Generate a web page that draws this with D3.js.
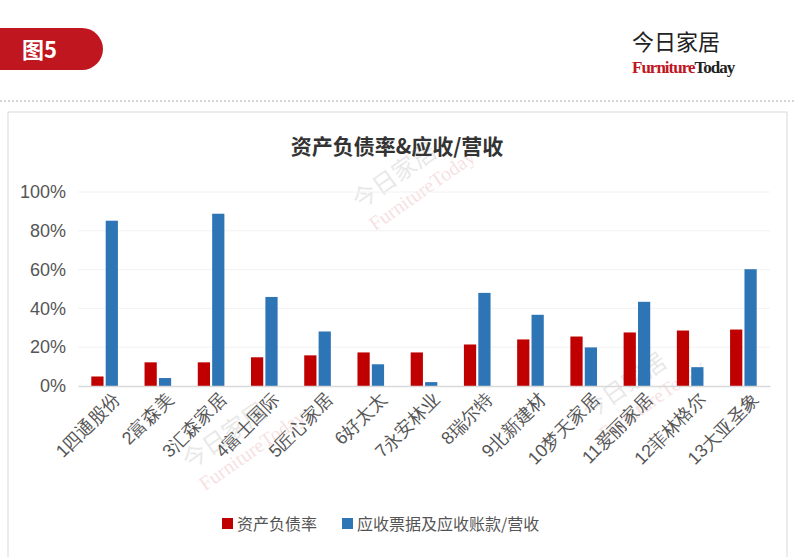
<!DOCTYPE html>
<html><head><meta charset="utf-8">
<script src="https://cdn.jsdelivr.net/npm/d3@7"></script>
<style>body{margin:0;background:#fff;font-family:"Noto Sans CJK SC","Microsoft YaHei",sans-serif}</style>
</head><body>
<svg id="chart" width="794" height="557"></svg>
<script>
var categories = ["1四通股份","2富森美","3汇森家居","4富士国际","5匠心家居","6好太太","7永安林业","8瑞尔特","9北新建材","10梦天家居","11爱丽家居","12菲林格尔","13大亚圣象"];
var debtRatio = [4.9,12.2,12.2,14.8,15.8,17.3,17.3,21.4,24.0,25.5,27.6,28.6,29.1];
var receivRatio = [85.2,4.1,88.8,45.9,28.1,11.2,2.0,48.0,36.7,19.9,43.4,9.7,60.2];
var yTicks = [0,20,40,60,80,100];
var seriesNames = ["资产负债率","应收票据及应收账款/营收"];
var colors = ["#c00000","#2e75b6"];

var svg = d3.select("#chart");
// header
svg.append("path").attr("d","M0,28 H82 A14,14 0 0 1 82,70 H0 Z").attr("fill","#c0161f");
svg.append("text").attr("x",22).attr("y",58).attr("fill","#fff").attr("font-size",22).attr("font-weight","bold").text("图5");
svg.append("text").attr("x",632).attr("y",50).attr("font-size",22).attr("fill","#222").text("今日家居");
svg.append("text").attr("x",632).attr("y",73).attr("font-size",17).attr("font-family","Liberation Serif").attr("font-weight","bold").attr("letter-spacing",-1)
  .call(function(t){t.append("tspan").attr("fill","#c0161f").text("Furniture");t.append("tspan").attr("fill","#222").text("Today");});
svg.append("line").attr("x1",0).attr("x2",794).attr("y1",101).attr("y2",101).attr("stroke","#aaa").attr("stroke-dasharray","2,2");
svg.append("rect").attr("x",8).attr("y",112).attr("width",779).attr("height",450).attr("fill","none").attr("stroke","#d9d9d9");

svg.append("text").attr("x",397).attr("y",154).attr("text-anchor","middle").attr("font-size",21).attr("font-weight","bold").attr("fill","#333").text("资产负债率&应收/营收");

// watermarks
[[360,210],[590,420],[190,470]].forEach(function(p){
  var g = svg.append("g").attr("transform","translate("+p[0]+","+p[1]+") rotate(-35)").attr("opacity",0.13);
  g.append("text").attr("font-size",24).attr("fill","#555").text("今日家居");
  g.append("text").attr("y",26).attr("font-size",20).attr("font-family","Liberation Serif").attr("fill","#c0161f").text("FurnitureToday");
});

var x = d3.scaleBand().domain(categories).range([78,770]).paddingInner(0.5).paddingOuter(0.25);
var y = d3.scaleLinear().domain([0,100]).range([386,192]);
var x1 = d3.scaleBand().domain([0,1]).range([0,x.bandwidth()]).paddingInner(0.15).paddingOuter(0);

var yAxis = svg.append("g").attr("transform","translate(78,0)")
  .call(d3.axisLeft(y).tickValues(yTicks).tickSize(0).tickFormat(function(d){return d+"%";}));
yAxis.select(".domain").remove();
yAxis.selectAll("text").attr("x",-12).attr("font-size",18).attr("fill","#555").attr("font-family","Liberation Sans");
svg.append("g").selectAll("line").data(yTicks.slice(1)).enter().append("line")
  .attr("x1",78).attr("x2",770).attr("y1",y).attr("y2",y).attr("stroke","#f2f2f2");

[debtRatio,receivRatio].forEach(function(s,si){
  svg.append("g").selectAll("rect").data(s).enter().append("rect")
    .attr("x",function(d,i){return x(categories[i])+x1(si);})
    .attr("width",x1.bandwidth()).attr("y",y).attr("height",function(d){return y(0)-y(d);})
    .attr("fill",colors[si]);
});

var xAxis = svg.append("g").attr("transform","translate(0,386)").call(d3.axisBottom(x).tickSize(0));
xAxis.select(".domain").attr("stroke","#d9d9d9").attr("stroke-width",1.5);
xAxis.selectAll("text").attr("font-size",18).attr("fill","#555").attr("text-anchor","end")
  .attr("transform","translate(10,8) rotate(-45)").attr("dy","0.35em").attr("dx",0);

var lg = svg.append("g").attr("transform","translate(222,524)");
var lx = 0;
seriesNames.forEach(function(n,i){
  lg.append("rect").attr("x",lx).attr("y",-6).attr("width",11).attr("height",11).attr("fill",colors[i]);
  lg.append("text").attr("x",lx+15).attr("y",0).attr("dy","0.35em").attr("font-size",16).attr("fill","#555").text(n);
  lx += 120;
});
</script>
</body></html>
